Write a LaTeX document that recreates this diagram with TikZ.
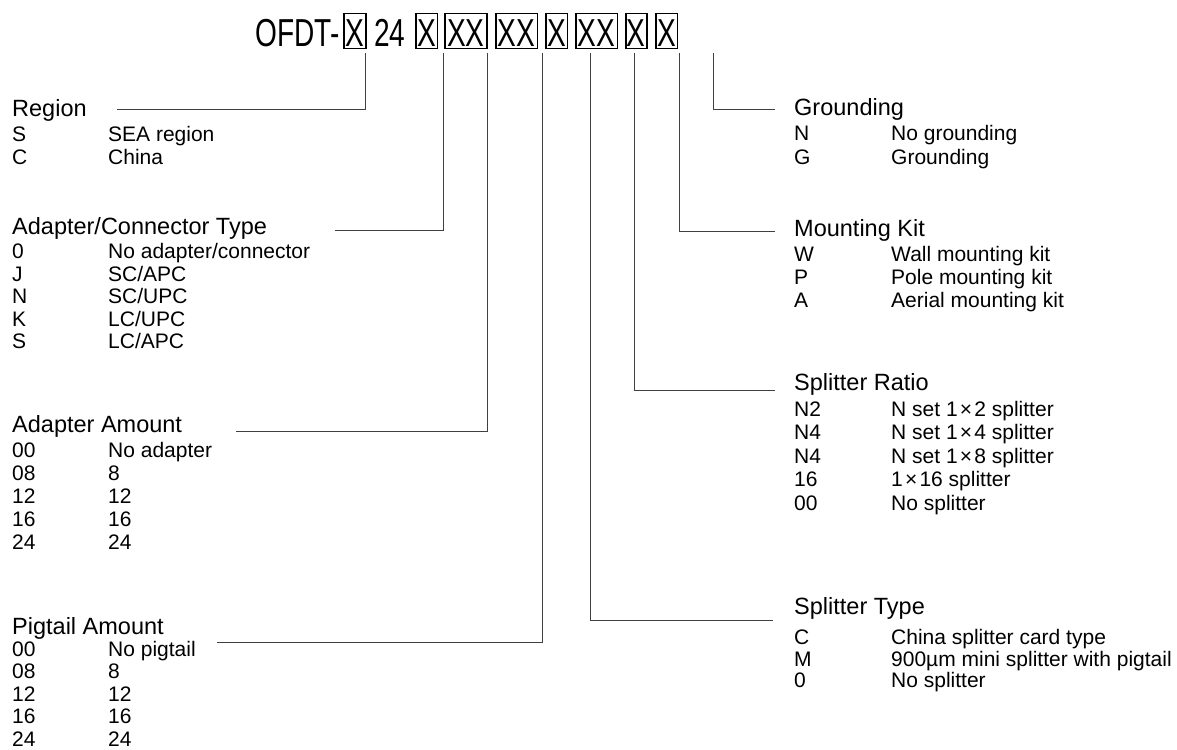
\documentclass[tikz,border=0pt]{standalone}
\usepackage{fontspec}
\setmainfont{Liberation Sans}
\newfontfamily\titlefont[FakeStretch=0.72]{Liberation Sans}
\tikzset{
  head/.style={anchor=base west, inner sep=0pt, font=\fontsize{23.5}{28}\selectfont},
  itm/.style={anchor=base west, inner sep=0pt, font=\fontsize{21}{25}\selectfont},
  conn/.style={draw=black!75, line width=1pt},
  titletxt/.style={anchor=base west, inner sep=0pt, font=\titlefont\fontsize{39}{45}\selectfont},
  xbox/.style={titletxt, draw=black, line width=1.6pt, text height=33pt, text depth=2pt, minimum width=#1},
}
\newcommand{\legentry}[6]{%
  \node[itm] (#1c) at (#2,#4) {#5};
  \node[itm] (#1d) at (#3,#4) {#6};}
\newcommand{\tms}{\kern2.2pt×\kern2.2pt}
\begin{document}
\begin{tikzpicture}[x=1pt,y=-1pt]
\useasboundingbox (0,0) rectangle (1177,749);
% title
\node[titletxt] (ofdt) at (255,46.5) {OFDT-};
\node[xbox=21.7pt] (b1) at (343.3,46.5) {X};
\node[titletxt] (n24) at (374,46.5) {24};
\node[xbox=21.7pt] (b2) at (415,46.5) {X};
\node[xbox=42pt] (b3) at (444,46.5) {XX};
\node[xbox=41.7pt] (b4) at (495,46.5) {XX};
\node[xbox=21.7pt] (b5) at (545,46.5) {X};
\node[xbox=41.7pt] (b6) at (575,46.5) {XX};
\node[xbox=21pt] (b7) at (625,46.5) {X};
\node[xbox=21.7pt] (b8) at (655,46.5) {X};

% left column
\node[head] (hreg) at (12,116.4) {Region};
\legentry{r1}{12}{108}{141.5}{S}{SEA region}
\legentry{r2}{12}{108}{164}{C}{China}

\node[head] (hac) at (12,234.4) {Adapter/Connector Type};
\legentry{a1}{12}{108}{258.5}{0}{No adapter/connector}
\legentry{a2}{12}{108}{281}{J}{SC/APC}
\legentry{a3}{12}{108}{303.5}{N}{SC/UPC}
\legentry{a4}{12}{108}{326}{K}{LC/UPC}
\legentry{a5}{12}{108}{348.5}{S}{LC/APC}

\node[head] (haa) at (12,432.4) {Adapter Amount};
\legentry{m1}{12}{108}{457.5}{00}{No adapter}
\legentry{m2}{12}{108}{480.5}{08}{8}
\legentry{m3}{12}{108}{503.5}{12}{12}
\legentry{m4}{12}{108}{526.5}{16}{16}
\legentry{m5}{12}{108}{549.5}{24}{24}

\node[head] (hpt) at (12,634.4) {Pigtail Amount};
\legentry{p1}{12}{108}{656}{00}{No pigtail}
\legentry{p2}{12}{108}{678.5}{08}{8}
\legentry{p3}{12}{108}{701}{12}{12}
\legentry{p4}{12}{108}{723.5}{16}{16}
\legentry{p5}{12}{108}{746}{24}{24}

% right column
\node[head] (hgr) at (794,115.4) {Grounding};
\legentry{g1}{794}{891}{140.5}{N}{No grounding}
\legentry{g2}{794}{891}{164}{G}{Grounding}

\node[head] (hmk) at (794,236.9) {Mounting Kit};
\legentry{k1}{794}{891}{261.5}{W}{Wall mounting kit}
\legentry{k2}{794}{891}{284.5}{P}{Pole mounting kit}
\legentry{k3}{794}{891}{307.5}{A}{Aerial mounting kit}

\node[head] (hsr) at (794,390.4) {Splitter Ratio};
\legentry{s1}{794}{891}{416}{N2}{N set 1\tms2 splitter}
\legentry{s2}{794}{891}{439.5}{N4}{N set 1\tms4 splitter}
\legentry{s3}{794}{891}{463}{N4}{N set 1\tms8 splitter}
\legentry{s4}{794}{891}{486.5}{16}{1\tms16 splitter}
\legentry{s5}{794}{891}{510}{00}{No splitter}

\node[head] (hst) at (794,614.4) {Splitter Type};
\legentry{t1}{794}{891}{644.5}{C}{China splitter card type}
\legentry{t2}{794}{891}{666}{M}{900µm mini splitter with pigtail}
\legentry{t3}{794}{891}{687.5}{0}{No splitter}

% connectors
\coordinate (c1) at (365,53);  \coordinate (e1) at (117,110);
\coordinate (c2) at (443,53);  \coordinate (e2) at (335,230);
\coordinate (c3) at (487,53);  \coordinate (e3) at (236,431);
\coordinate (c4) at (542,53);  \coordinate (e4) at (217,642);
\coordinate (c5) at (590,53);  \coordinate (e5) at (773,620);
\coordinate (c6) at (634,53);  \coordinate (e6) at (775,390);
\coordinate (c7) at (679,53);  \coordinate (e7) at (775,231);
\coordinate (c8) at (713,53);  \coordinate (e8) at (775,110);
\foreach \i in {1,...,8} {\draw[conn] (c\i) |- (e\i);}
\end{tikzpicture}
\end{document}
